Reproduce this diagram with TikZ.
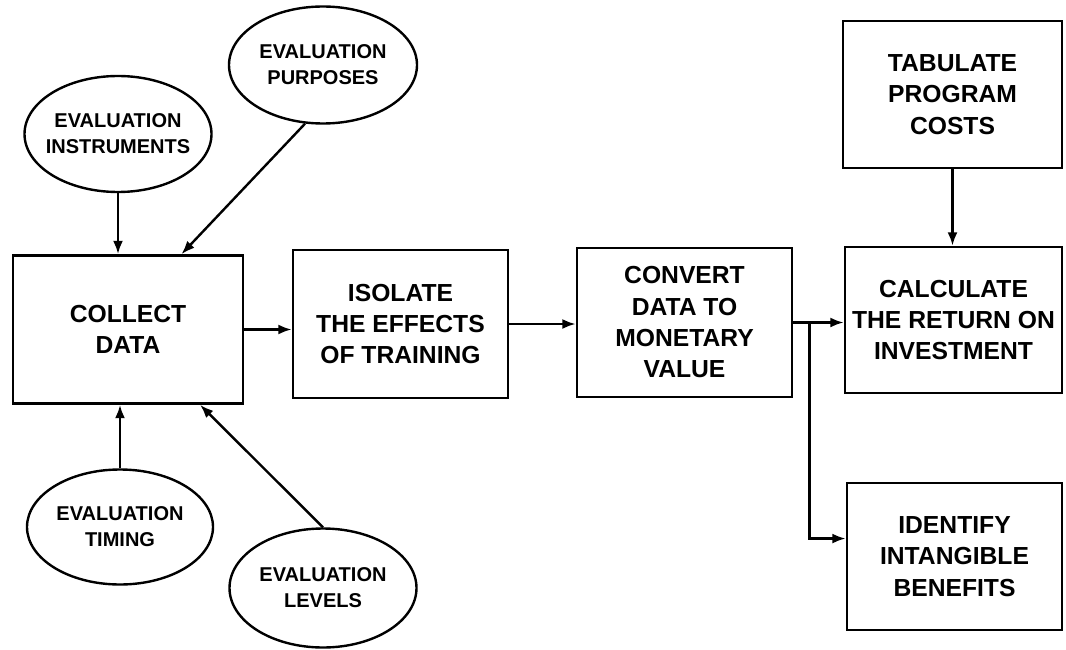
\documentclass[tikz,border=0pt]{standalone}
\usepackage{fontspec}
\setmainfont{Liberation Sans}
\usetikzlibrary{arrows.meta,calc,shapes.geometric}
\tikzset{
  boxnode/.style={draw, line width=2pt, rectangle, inner sep=0pt, align=center,
    font=\bfseries\fontsize{18.5}{23.5}\selectfont},
  ellnode/.style={draw, line width=1.8pt, ellipse, inner xsep=-10pt, inner ysep=0pt, align=center,
    font=\bfseries\fontsize{15}{19.5}\selectfont},
  conn/.style={line width=1.8pt, -{Latex[length=10pt,width=7.5pt]}},
}
\begin{document}
\begin{tikzpicture}[x=0.75pt,y=-0.75pt]
\useasboundingbox (0,0) rectangle (1066,649);
% boxes
\node[boxnode, minimum width=172.5pt, minimum height=111pt] (collect) at (128,329.5) {COLLECT\\DATA};
\node[boxnode, minimum width=161.25pt, minimum height=111pt] (isolate) at (400.5,324) {ISOLATE\\THE EFFECTS\\OF TRAINING};
\node[boxnode, minimum width=161.25pt, minimum height=111.75pt] (convert) at (684.5,322.5) {CONVERT\\DATA TO\\MONETARY\\VALUE};
\node[boxnode, minimum width=162.75pt, minimum height=109.5pt] (calc) at (953.5,320) {CALCULATE\\THE RETURN ON\\INVESTMENT};
\node[boxnode, minimum width=164.25pt, minimum height=110.25pt] (tab) at (952.5,94.5) {TABULATE\\PROGRAM\\COSTS};
\node[boxnode, minimum width=161.25pt, minimum height=110.25pt] (ident) at (954.5,556.5) {IDENTIFY\\INTANGIBLE\\BENEFITS};
% ellipses
\node[ellnode, minimum width=140.25pt, minimum height=87pt] (instr) at (118,134) {EVALUATION\\INSTRUMENTS};
\node[ellnode, minimum width=141pt, minimum height=87.75pt] (purp) at (323,65) {EVALUATION\\PURPOSES};
\node[ellnode, minimum width=139.5pt, minimum height=86.25pt] (timing) at (120,527) {EVALUATION\\TIMING};
\node[ellnode, minimum width=140.25pt, minimum height=89.25pt] (levels) at (323,588) {EVALUATION\\LEVELS};
% connectors
\draw[conn] (instr.south) -- (instr.south |- collect.north);
\draw[conn] (purp.253) -- ($(collect.north west)!0.73!(collect.north east)$);
\draw[conn] (timing.north) -- (timing.north |- collect.south);
\draw[conn] (levels.north) -- ($(collect.south west)!0.81!(collect.south east)$);
\draw[conn] (collect.east) -- (collect.east -| isolate.west);
\draw[conn] (isolate.east) -- (isolate.east -| convert.west);
\draw[conn] (convert.east) -- (convert.east -| calc.west);
\coordinate (br) at ($(convert.east)+(16,0)$);
\coordinate (identin) at ($(ident.north west)!0.38!(ident.south west)$);
\draw[conn] (br) |- (identin);
\draw[conn] (tab.south) -- (tab.south |- calc.north);
\end{tikzpicture}
\end{document}
